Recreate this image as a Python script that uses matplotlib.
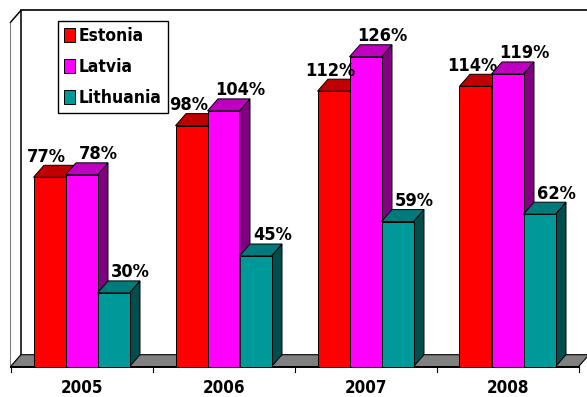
import matplotlib
matplotlib.use("Agg")
import matplotlib.pyplot as plt
from matplotlib.patches import Polygon, Patch
from matplotlib import font_manager
from matplotlib.textpath import TextPath
from matplotlib.font_manager import FontProperties

years = ['2005', '2006', '2007', '2008']
countries = ['Estonia', 'Latvia', 'Lithuania']
estonia = [77, 98, 112, 114]
latvia = [78, 104, 126, 119]
lithuania = [30, 45, 59, 62]
series = [estonia, latvia, lithuania]

front_colors = ['#FF0000', '#FF00FF', '#009999']
top_colors = ['#C00000', '#C000C0', '#007A7A']
side_colors = ['#800000', '#800080', '#004D4D']
label_shift = [-3, 17, 17]  # px, where excel puts the value labels

# look for a narrow bold face, the original is a squeezed tahoma
family, stretch = 'DejaVu Sans', 'normal'
for f in font_manager.fontManager.ttflist:
    nm = f.name + ' ' + str(f.stretch)
    if ('Narrow' in nm or 'Condensed' in nm or 'condensed' in nm) and f.weight in (700, 'bold'):
        family, stretch = f.name, f.stretch
        break
plt.rcParams['font.family'] = [family, 'DejaVu Sans']
plt.rcParams['font.stretch'] = stretch


def fit_size(s, width_px):
    # font size (pt) that gives the text this width at dpi 100
    fp = FontProperties(family=family, stretch=stretch, weight='bold', size=10)
    wd = TextPath((0, 0), s, prop=fp).get_extents().width  # in pt units at size 10
    return 10 * width_px / (wd * 100 / 72)


W, H = 587, 397
fig = plt.figure(figsize=(W / 100, H / 100), dpi=100)
ax = fig.add_axes([0, 0, 1, 1])

# pixel geometry of the 3d box
px_per_cat = 142.0
px_per_val = 2.46
x0_px = 10.5       # left front corner of the floor
y0_px = H - 366.7  # floor front line (from bottom)
ax.set_xlim(-0.5 - x0_px / px_per_cat, -0.5 + (W - x0_px) / px_per_cat)
ax.set_ylim(-y0_px / px_per_val, (H - y0_px) / px_per_val)
ax.axis('off')

dx = 10.5 / px_per_cat
dy = 12.0 / px_per_val
vmax = 140
xl, xr = -0.5, 3.5

# walls and floor
side = Polygon([(xl, 0), (xl, vmax), (xl + dx, vmax + dy), (xl + dx, dy)],
               closed=True, facecolor='white', edgecolor='#808080', lw=0.8, zorder=1)
ax.add_patch(side)
ax.plot([xl, xl + dx, xl + dx], [vmax, vmax + dy, dy], color='black', lw=1.0, zorder=1.1)
ax.plot([xl + dx, xr + dx + 1], [vmax + dy, vmax + dy], color='black', lw=1.2, zorder=1.1)
floor = Polygon([(xl, 0), (xl + dx, dy), (xr + dx, dy), (xr, 0)],
                closed=True, facecolor='#808080', edgecolor='black', lw=0.8, zorder=1.2)
ax.add_patch(floor)

# category axis with ticks between groups
ax.plot([xl, xr], [0, 0], color='black', lw=1.4, zorder=1.3)
for t in range(len(years) + 1):
    ax.plot([xl + t, xl + t], [0, -5.2 / px_per_val], color='black', lw=0.8, zorder=1.3)
year_size = fit_size('2005', 40)
for i, yr in enumerate(years):
    ax.text(i, -21.0 / px_per_val, yr, ha='center', va='center',
            fontsize=year_size, fontweight='bold')

w = 32.0 / px_per_cat
z = 2
for j in range(len(years)):
    for i, vals in enumerate(series):
        v = vals[j]
        xc = j + (i - 1) * w
        a, b = xc - w / 2, xc + w / 2
        ax.add_patch(Polygon([(b, 0), (b, v), (b + dx, v + dy), (b + dx, dy)], closed=True,
                             facecolor=side_colors[i], edgecolor='black', lw=0.7, zorder=z))
        ax.bar(xc, v, width=w, color=front_colors[i], edgecolor='black', lw=0.7, zorder=z + 0.1)
        ax.add_patch(Polygon([(a, v), (b, v), (b + dx, v + dy), (a + dx, v + dy)], closed=True,
                             facecolor=top_colors[i], edgecolor='black', lw=0.7, zorder=z + 0.2))
        z += 1

lab_size = fit_size('104%', 48)
for j in range(len(years)):
    for i, vals in enumerate(series):
        v = vals[j]
        xc = j + (i - 1) * w + label_shift[i] / px_per_cat
        ax.text(xc, v + 20.5 / px_per_val, f'{v}%', ha='center', va='center',
                fontsize=lab_size, fontweight='bold', zorder=50)

leg_size = fit_size('Lithuania', 80)
fs_px = leg_size * 100 / 72
handles = [Patch(facecolor=c, edgecolor='black', lw=0.7) for c in front_colors]
leg = ax.legend(handles, countries, loc='upper left',
                bbox_to_anchor=(57.7 / W, 1 - 20.7 / H), bbox_transform=fig.transFigure,
                prop={'size': leg_size, 'weight': 'bold'}, fancybox=False, framealpha=1,
                edgecolor='black', handlelength=11 / fs_px, handleheight=15 / fs_px,
                handletextpad=4 / fs_px, labelspacing=(30 - 17) / fs_px,
                borderpad=6 / fs_px, borderaxespad=0)
leg.get_frame().set_linewidth(1.0)
leg.set_zorder(60)

fig.savefig('out.png', dpi=100, facecolor='white')
